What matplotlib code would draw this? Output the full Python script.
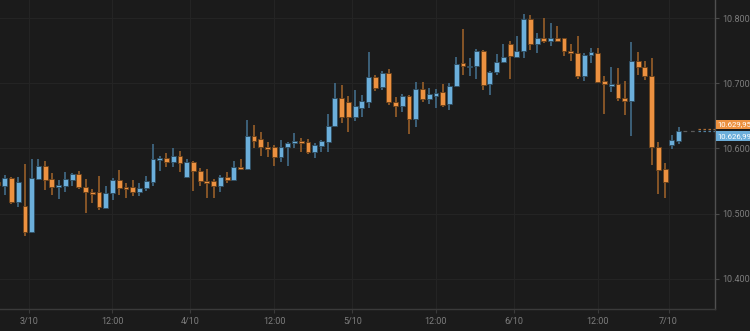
import matplotlib
matplotlib.use('Agg')
import matplotlib.pyplot as plt
import matplotlib.transforms as mtransforms
import numpy as np

# hourly candles, 2/10 evening .. 7/10 early morning
opens = [10548.7, 10543.0, 10555.2, 10517.5, 10511.9, 10471.6, 10553.3, 10573.6, 10552.8, 10540.5,
         10542.5, 10551.7, 10560.9, 10541.0, 10533.3, 10532.9, 10509.3, 10531.3, 10551.7, 10541.5,
         10540.5, 10533.8, 10539.0, 10549.1, 10582.4, 10585.0, 10579.8, 10589.0, 10555.9, 10578.8,
         10565.5, 10550.6, 10550.6, 10543.0, 10555.9, 10551.7, 10572.1, 10568.6, 10619.2, 10614.1,
         10602.8, 10601.8, 10587.4, 10601.8, 10608.0, 10611.5, 10610.4, 10595.1, 10604.3, 10609.5,
         10634.5, 10676.9, 10671.7, 10648.7, 10662.5, 10671.7, 10710.0, 10693.8, 10716.2, 10670.8,
         10665.1, 10680.9, 10644.7, 10690.7, 10675.9, 10680.9, 10686.1, 10667.7, 10696.2, 10730.6,
         10724.4, 10726.9, 10749.9, 10698.8, 10716.8, 10732.1, 10759.7, 10740.7, 10749.4, 10798.0,
         10759.7, 10768.9, 10765.2, 10768.9, 10768.9, 10749.9, 10745.9, 10711.6, 10743.3, 10746.8,
         10703.4, 10696.2, 10699.3, 10677.9, 10672.8, 10734.6, 10724.4, 10711.6, 10601.8, 10568.1,
         10605.4, 10612.0]
highs = [10550.2, 10559.4, 10556.0, 10555.9, 10576.2, 10583.4, 10583.4, 10580.8, 10562.9, 10551.7,
         10564.4, 10562.9, 10565.5, 10552.8, 10537.9, 10558.3, 10542.5, 10554.3, 10567.0, 10546.7,
         10551.7, 10546.7, 10558.3, 10606.9, 10588.5, 10593.6, 10600.3, 10596.6, 10583.9, 10581.3,
         10570.6, 10568.1, 10552.8, 10559.4, 10563.5, 10581.3, 10583.9, 10643.7, 10636.0, 10625.7,
         10610.4, 10605.4, 10613.0, 10609.5, 10624.2, 10615.6, 10614.1, 10608.9, 10613.0, 10652.9,
         10699.9, 10697.3, 10680.5, 10689.7, 10682.0, 10748.4, 10712.6, 10718.8, 10721.8, 10679.4,
         10683.5, 10682.0, 10701.5, 10701.5, 10692.3, 10690.7, 10698.4, 10699.9, 10739.8, 10783.1,
         10738.2, 10752.5, 10751.0, 10718.8, 10744.4, 10759.7, 10764.8, 10772.9, 10805.7, 10804.6,
         10777.5, 10799.5, 10791.9, 10787.7, 10769.5, 10759.7, 10772.4, 10745.9, 10753.6, 10754.5,
         10711.6, 10724.4, 10722.9, 10703.9, 10763.7, 10748.4, 10734.6, 10738.2, 10609.5, 10577.3,
         10620.7, 10632.5]
lows = [10542.5, 10528.7, 10514.9, 10510.8, 10466.4, 10470.5, 10551.7, 10536.4, 10528.7, 10522.6,
        10533.8, 10542.5, 10537.5, 10500.7, 10516.0, 10505.7, 10508.3, 10521.1, 10528.7, 10523.7,
        10527.7, 10527.7, 10535.3, 10543.0, 10566.0, 10571.2, 10572.1, 10563.5, 10554.3, 10535.3,
        10543.0, 10524.6, 10524.6, 10533.8, 10546.7, 10551.0, 10567.0, 10567.5, 10600.3, 10588.5,
        10586.5, 10573.2, 10579.8, 10573.2, 10600.3, 10595.1, 10591.6, 10585.9, 10595.1, 10595.1,
        10633.4, 10639.5, 10625.7, 10642.6, 10648.7, 10661.6, 10688.1, 10689.7, 10666.7, 10648.7,
        10656.4, 10621.8, 10633.4, 10671.7, 10667.7, 10661.6, 10664.1, 10659.0, 10695.5, 10712.6,
        10711.6, 10706.1, 10689.7, 10682.0, 10712.6, 10730.6, 10706.5, 10740.0, 10738.2, 10751.0,
        10746.8, 10762.1, 10757.5, 10764.8, 10741.8, 10734.6, 10706.5, 10703.9, 10731.5, 10702.0,
        10652.9, 10686.1, 10672.8, 10651.3, 10619.6, 10712.6, 10705.0, 10574.7, 10529.8, 10523.7,
        10598.8, 10606.9]
closes = [10544.1, 10555.2, 10518.5, 10549.1, 10471.6, 10555.2, 10573.6, 10551.7, 10541.5, 10543.6,
          10552.8, 10560.9, 10540.5, 10532.9, 10530.3, 10510.8, 10531.3, 10551.7, 10540.2, 10537.5,
          10533.8, 10539.9, 10550.2, 10583.9, 10585.9, 10579.8, 10589.0, 10577.3, 10578.8, 10565.5,
          10550.2, 10547.6, 10543.0, 10555.9, 10551.7, 10571.2, 10568.1, 10619.2, 10612.0, 10601.8,
          10599.2, 10587.4, 10602.8, 10608.9, 10611.5, 10608.0, 10595.1, 10605.4, 10611.5, 10634.5,
          10676.9, 10647.8, 10648.7, 10665.1, 10672.8, 10710.0, 10693.2, 10716.2, 10670.8, 10665.1,
          10680.9, 10644.7, 10691.2, 10675.9, 10683.1, 10684.6, 10666.7, 10696.2, 10729.5, 10726.9,
          10726.9, 10749.9, 10697.3, 10717.7, 10733.0, 10740.7, 10741.8, 10749.9, 10798.0, 10759.7,
          10769.8, 10765.2, 10768.9, 10765.2, 10749.9, 10745.9, 10711.6, 10743.3, 10748.4, 10702.4,
          10698.4, 10699.3, 10677.9, 10672.8, 10734.6, 10724.4, 10711.1, 10602.8, 10567.0, 10549.1,
          10612.6, 10626.99]

bid_price = 10629.95
last_price = closes[-1]

tick_pos = [4.55, 16.97, 28.55, 41.03, 52.6, 65.0, 76.6, 89.0, 99.5]
tick_labels = ['3/10', '12:00', '4/10', '12:00', '5/10', '12:00', '6/10', '12:00', '7/10']
price_ticks = [10400, 10500, 10600, 10700, 10800]

BG = '#1b1b1b'
UP = '#6cafdb'
UP_WICK = '#3f6680'
UP_EDGE = '#2f4d60'
DOWN = '#ec9140'
DOWN_WICK = '#8f5a28'
DOWN_EDGE = '#6a421c'
TXT = '#7d7d7d'

plt.rcParams['font.family'] = ['Roboto', 'DejaVu Sans']

o = np.array(opens)
h = np.array(highs)
l = np.array(lows)
c = np.array(closes)
x = np.arange(len(o))
up = c >= o

fig = plt.figure(figsize=(7.5, 3.31), dpi=100, facecolor=BG)
ax = fig.add_axes([0, 22 / 331, 715 / 750, 309 / 331])
ax.set_facecolor(BG)

ax.set_xlim(0.3, 106.4)
ax.set_ylim(10354.0, 10827.6)

# grid
for t in tick_pos:
    ax.axvline(t, color='#242424', lw=0.8, zorder=0)
for p in price_ticks:
    ax.axhline(p, color='#242424', lw=0.8, zorder=0)

# wicks
ax.vlines(x[up], l[up], h[up], color=UP_WICK, lw=1.3, zorder=2)
ax.vlines(x[~up], l[~up], h[~up], color=DOWN_WICK, lw=1.3, zorder=2)

# bodies (min height so dojis stay visible)
body_lo = np.minimum(o, c)
body_h = np.maximum(np.abs(c - o), 2.2)
ax.bar(x[up], body_h[up], bottom=body_lo[up], width=0.72, color=UP,
       edgecolor=UP_EDGE, linewidth=0.6, zorder=3)
ax.bar(x[~up], body_h[~up], bottom=body_lo[~up], width=0.72, color=DOWN,
       edgecolor=DOWN_EDGE, linewidth=0.6, zorder=3)

# last price lines
last_x = x[-1]
ax.hlines(last_price, last_x + 0.6, 103.9, color='#5a5a5a', lw=0.9,
          linestyles=(0, (3, 3)), zorder=1)
ax.hlines(bid_price, 103.9, 106.4, color=DOWN, lw=0.9, linestyles=(0, (2, 2)), alpha=0.7, zorder=1)
ax.hlines(last_price, 103.9, 106.4, color=UP, lw=0.9, linestyles=(0, (2, 2)), alpha=0.7, zorder=1)

# axes styling
for side in ['top', 'left']:
    ax.spines[side].set_visible(False)
ax.spines['right'].set_color('#505050')
ax.spines['bottom'].set_color('#3a3a3a')
ax.spines['right'].set_linewidth(1.0)
ax.spines['bottom'].set_linewidth(1.0)

ax.yaxis.tick_right()
ax.set_yticks(price_ticks)
ax.set_yticklabels([f'{p:,}'.replace(',', '.') for p in price_ticks])
ax.tick_params(axis='y', colors='#4a4a4a', labelcolor=TXT, labelsize=6.5,
               length=3, width=0.8, pad=2)
ax.set_xticks(tick_pos)
ax.set_xticklabels(tick_labels)
ax.tick_params(axis='x', colors='#3a3a3a', labelcolor=TXT, labelsize=6.5,
               length=3, width=0.8, pad=3)


def fmt(v):
    s = f'{v:,.2f}'
    return s.replace(',', ' ').replace('.', ',').replace(' ', '.')


trans = mtransforms.blended_transform_factory(ax.transAxes, ax.transData)
tag_style = dict(xycoords=trans, textcoords='offset points', ha='left', va='center',
                 fontsize=5.6, color='white', annotation_clip=False)
ax.annotate(fmt(bid_price), xy=(1.0, bid_price), xytext=(1.6, 3.2),
            bbox=dict(boxstyle='square,pad=0.22', fc=DOWN, ec='none'), **tag_style)
ax.annotate(fmt(last_price), xy=(1.0, last_price), xytext=(1.6, -3.6),
            bbox=dict(boxstyle='square,pad=0.22', fc=UP, ec='none'), **tag_style)

fig.savefig('out.png', dpi=100, facecolor=BG)
